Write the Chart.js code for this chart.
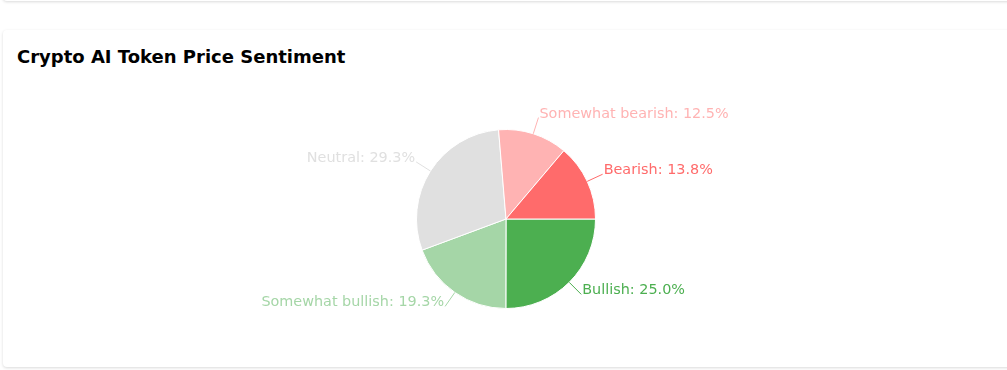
<!DOCTYPE html>
<html>
<head>
<meta charset="utf-8">
<script src="https://cdn.jsdelivr.net/npm/chart.js@4.4.1/dist/chart.umd.min.js"></script>
<style>
  html, body { margin: 0; padding: 0; background: #fff; overflow: hidden; }
  body { width: 1007px; height: 370px; position: relative; font-family: "DejaVu Sans", sans-serif; }
  .top-card {
    position: absolute; left: 3px; right: -10px; top: -40px; height: 41px;
    background: #fff; border-radius: 4px; box-shadow: 0 1px 3px rgba(0,0,0,0.15);
  }
  .card {
    position: absolute; left: 3px; right: -10px; top: 30px; height: 337px;
    background: #fff; border-radius: 4px; box-shadow: 0 1px 3px rgba(0,0,0,0.15);
  }
  .card h3 {
    position: absolute; left: 14px; top: 16px; margin: 0;
    font-size: 18px; font-weight: bold; color: #000;
  }
  .chart-box { position: absolute; left: 0; top: 100px; width: 1007px; height: 240px; }
</style>
</head>
<body>
<div class="top-card"></div>
<div class="card"><h3>Crypto AI Token Price Sentiment</h3></div>
<div class="chart-box"><canvas id="sentiment-chart"></canvas></div>
<script>
const labels = ['Bullish', 'Somewhat bullish', 'Neutral', 'Somewhat bearish', 'Bearish'];
const shares = [25.0, 19.3, 29.3, 12.5, 13.8];
const colors = ['#4caf50', '#a5d6a7', '#e0e0e0', '#ffb3b3', '#ff6b6b'];

// подписи с выносными линиями
const outerLabels = {
    id: 'outerLabels',
    afterDatasetsDraw(chart) {
        const ctx = chart.ctx;
        const meta = chart.getDatasetMeta(0);
        ctx.save();
        ctx.font = '14.4px "DejaVu Sans", sans-serif';
        ctx.lineWidth = 1;
        meta.data.forEach((arc, i) => {
            const mid = (arc.startAngle + arc.endAngle) / 2;
            const r = arc.outerRadius;
            const cos = Math.cos(mid), sin = Math.sin(mid);
            const x1 = arc.x + cos * r, y1 = arc.y + sin * r;
            const x2 = arc.x + cos * (r + 17), y2 = arc.y + sin * (r + 17);
            ctx.strokeStyle = colors[i];
            ctx.beginPath();
            ctx.moveTo(x1, y1);
            ctx.lineTo(x2, y2);
            ctx.stroke();
            const text = labels[i] + ': ' + shares[i].toFixed(1) + '%';
            ctx.fillStyle = colors[i];
            ctx.textBaseline = 'alphabetic';
            if (cos >= 0) {
                ctx.textAlign = 'left';
                ctx.fillText(text, x2 + 1, y2);
            } else {
                ctx.textAlign = 'right';
                ctx.fillText(text, x2 - 1, y2);
            }
        });
        ctx.restore();
    }
};

new Chart(document.getElementById('sentiment-chart'), {
    type: 'pie',
    data: {
        labels: labels,
        datasets: [{
            data: shares,
            backgroundColor: colors,
            borderColor: '#ffffff',
            borderWidth: 1
        }]
    },
    options: {
        responsive: true,
        maintainAspectRatio: false,
        animation: false,
        rotation: 90,
        layout: { padding: { top: 29, bottom: 31, left: 5, right: 0 } },
        plugins: {
            legend: { display: false },
            tooltip: { enabled: false }
        }
    },
    plugins: [outerLabels]
});
</script>
</body>
</html>
